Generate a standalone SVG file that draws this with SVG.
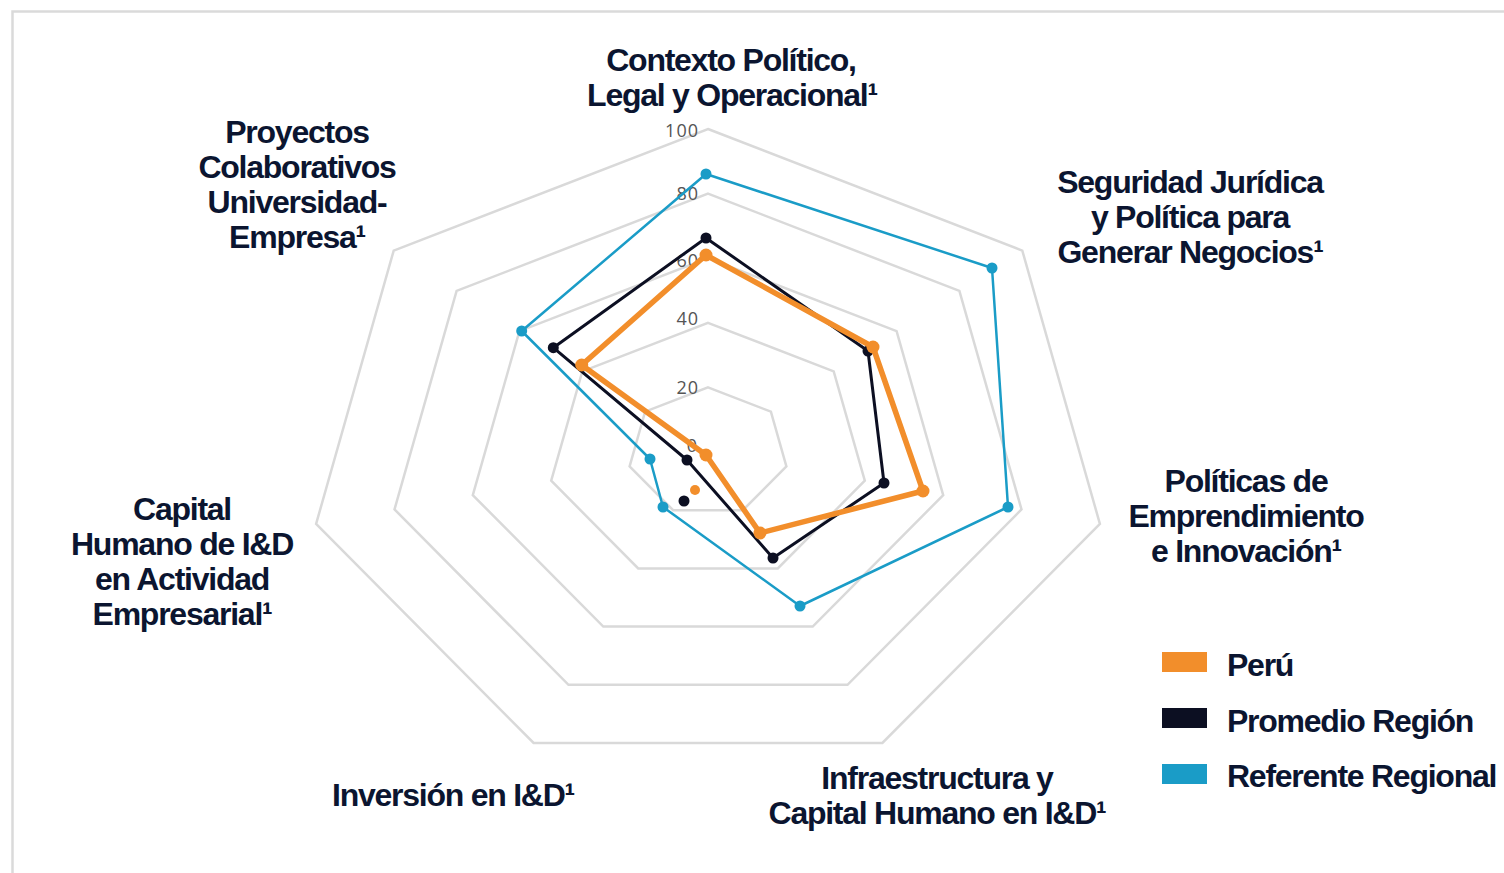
<svg xmlns="http://www.w3.org/2000/svg" width="1504" height="873" viewBox="0 0 1504 873">
<style>
.grid{fill:none;stroke:#d9d9d9;stroke-width:2.5;stroke-linejoin:miter}
.tick{font-family:"Open Sans","Noto Sans",sans-serif;font-size:18px;fill:#555;text-anchor:end;letter-spacing:1px}
.lbl{font-family:"Liberation Sans",Arial,sans-serif;font-weight:bold;font-size:32px;fill:#0b1530;letter-spacing:-1.25px;text-anchor:middle}
.leg{font-family:"Liberation Sans",Arial,sans-serif;font-weight:bold;font-size:32px;fill:#0b1530;letter-spacing:-1.25px}
.peru{fill:none;stroke:#f28e2b;stroke-width:5.5;stroke-linejoin:round}
.prom{fill:none;stroke:#0c0f22;stroke-width:3;stroke-linejoin:round}
.ref{fill:none;stroke:#1a9cc7;stroke-width:2.5;stroke-linejoin:round}
.dp{fill:#f28e2b}
.dk{fill:#0c0f22}
.db{fill:#1a9cc7}
</style>
<rect width="1504" height="873" fill="#ffffff"/>
<path d="M12.5,873 V11.5 H1504" fill="none" stroke="#dadada" stroke-width="2.5"/>

<g id="grid">
<polygon class="grid" points="708,129 1022.3,250.6 1099.9,523.9 882.4,743 533.6,743 316.1,523.9 393.7,250.6"/>
<polygon class="grid" points="708,193.6 959.4,290.9 1021.5,509.5 847.5,684.8 568.5,684.8 394.5,509.5 456.6,290.9"/>
<polygon class="grid" points="708,258.2 896.6,331.2 943.2,495.1 812.7,626.6 603.3,626.6 472.8,495.1 519.4,331.2"/>
<polygon class="grid" points="708,322.8 833.7,371.4 864.8,480.7 777.8,568.4 638.2,568.4 551.2,480.7 582.3,371.4"/>
<polygon class="grid" points="708,387.4 770.9,411.7 786.4,466.4 742.9,510.2 673.1,510.2 629.6,466.4 645.1,411.7"/>
</g>

<g id="ticks">
<text class="tick" x="699" y="137">100</text>
<text class="tick" x="699" y="200">80</text>
<text class="tick" x="699" y="267">60</text>
<text class="tick" x="699" y="325">40</text>
<text class="tick" x="699" y="394">20</text>
<text class="tick" x="698" y="452">0</text>
</g>

<g id="connectors">
<g id="serie-referente">
<polygon class="ref" points="706,174 992,268 1008,507 800,606 663,507 650,459 521.7,331"/>
<circle class="db" cx="706" cy="174" r="5.5"/>
<circle class="db" cx="992" cy="268" r="5.5"/>
<circle class="db" cx="1008" cy="507" r="5.5"/>
<circle class="db" cx="800" cy="606" r="5.5"/>
<circle class="db" cx="663" cy="507" r="5.5"/>
<circle class="db" cx="650" cy="459" r="5.5"/>
<circle class="db" cx="521.7" cy="331" r="5.5"/>
</g>
<g id="serie-promedio">
<polygon class="prom" points="706,238 868,351 884,483 773,558 687,460 553.3,347.7"/>
<circle class="dk" cx="706" cy="238" r="5.5"/>
<circle class="dk" cx="868" cy="351" r="5.5"/>
<circle class="dk" cx="884" cy="483" r="5.5"/>
<circle class="dk" cx="773" cy="558" r="5.5"/>
<circle class="dk" cx="687" cy="460" r="5.5"/>
<circle class="dk" cx="553.3" cy="347.7" r="5.5"/>
<circle class="dk" cx="684" cy="501" r="5.5"/>
</g>
<g id="serie-peru">
<polygon class="peru" points="706,255 873,347 923,491 760,533 706,455 581.7,365"/>
<circle class="dp" cx="706" cy="255" r="6.5"/>
<circle class="dp" cx="873" cy="347" r="6.5"/>
<circle class="dp" cx="923" cy="491" r="6.5"/>
<circle class="dp" cx="760" cy="533" r="6.5"/>
<circle class="dp" cx="706" cy="455" r="6.5"/>
<circle class="dp" cx="581.7" cy="365" r="6.5"/>
<circle class="dp" cx="695" cy="490" r="5"/>
</g>
</g>

<g id="label-contexto">
<text class="lbl" x="731" y="71">Contexto Político,</text>
<text class="lbl" x="732" y="106">Legal y Operacional¹</text>
</g>
<g id="label-seguridad">
<text class="lbl" x="1190" y="193">Seguridad Jurídica</text>
<text class="lbl" x="1190" y="228">y Política para</text>
<text class="lbl" x="1190" y="263">Generar Negocios¹</text>
</g>
<g id="label-politicas">
<text class="lbl" x="1246" y="492">Políticas de</text>
<text class="lbl" x="1246" y="527">Emprendimiento</text>
<text class="lbl" x="1246" y="562">e Innovación¹</text>
</g>
<g id="label-infraestructura">
<text class="lbl" x="937" y="789">Infraestructura y</text>
<text class="lbl" x="937" y="824">Capital Humano en I&amp;D¹</text>
</g>
<g id="label-inversion">
<text class="lbl" x="453" y="806">Inversión en I&amp;D¹</text>
</g>
<g id="label-capital">
<text class="lbl" x="182" y="520">Capital</text>
<text class="lbl" x="182" y="555">Humano de I&amp;D</text>
<text class="lbl" x="182" y="590">en Actividad</text>
<text class="lbl" x="182" y="625">Empresarial¹</text>
</g>
<g id="label-proyectos">
<text class="lbl" x="297" y="143">Proyectos</text>
<text class="lbl" x="297" y="178">Colaborativos</text>
<text class="lbl" x="297" y="213">Universidad-</text>
<text class="lbl" x="297" y="248">Empresa¹</text>
</g>

<g id="legend">
<g id="legend-peru">
<rect x="1162" y="652" width="45" height="20" fill="#f28e2b"/>
<text class="leg" x="1227" y="676">Perú</text>
</g>
<g id="legend-promedio">
<rect x="1162" y="708" width="45" height="20" fill="#0c0f22"/>
<text class="leg" x="1227" y="732">Promedio Región</text>
</g>
<g id="legend-referente">
<rect x="1162" y="764" width="45" height="20" fill="#1a9cc7"/>
<text class="leg" x="1227" y="787">Referente Regional</text>
</g>
</g>
</svg>
